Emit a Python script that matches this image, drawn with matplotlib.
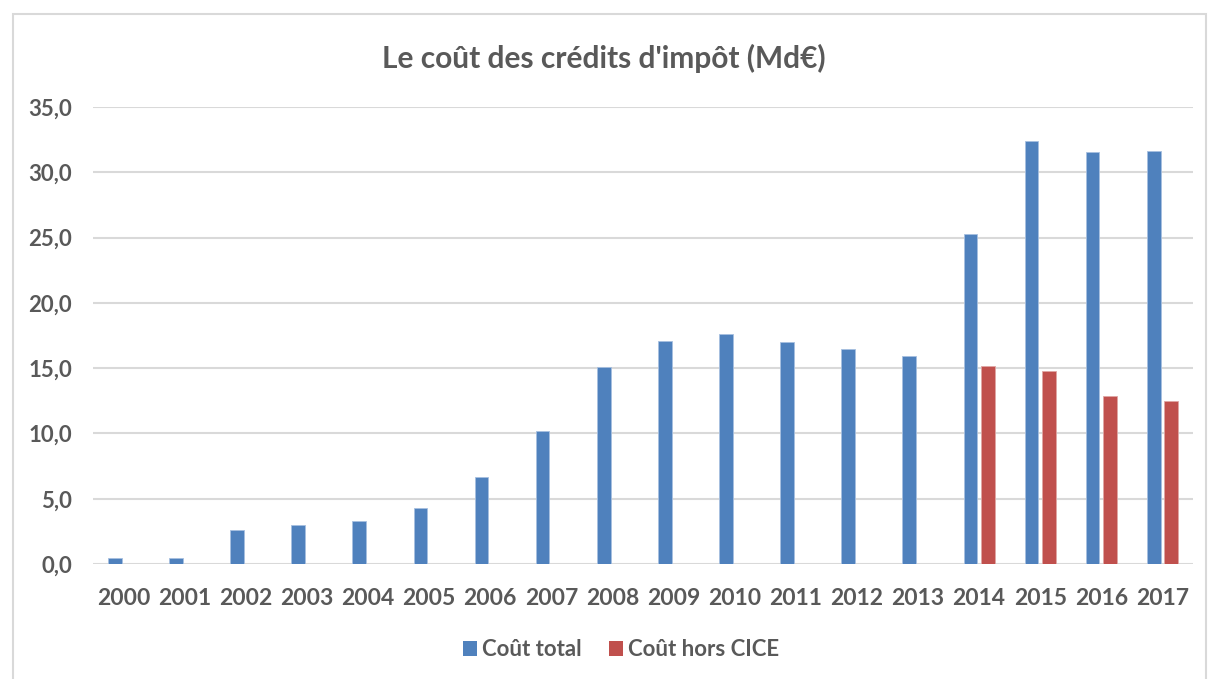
import matplotlib
matplotlib.use("Agg")
import matplotlib.pyplot as plt
import numpy as np
from matplotlib.patches import Rectangle

years = ["2000", "2001", "2002", "2003", "2004", "2005", "2006", "2007", "2008",
         "2009", "2010", "2011", "2012", "2013", "2014", "2015", "2016", "2017"]
cout_total = [0.45, 0.45, 2.6, 3.0, 3.27, 4.3, 6.7, 10.2, 15.1,
              17.1, 17.6, 17.0, 16.5, 15.9, 25.3, 32.4, 31.55, 31.65]
cout_hors_cice = [np.nan] * 14 + [15.15, 14.8, 12.85, 12.5]
series_names = ["Coût total", "Coût hors CICE"]
title = "Le coût des crédits d'impôt (Md€)"
yticks = [0, 5, 10, 15, 20, 25, 30, 35]

blue = "#4F81BD"
red = "#C0504D"
txt = "#595959"
grid = "#D9D9D9"
font = "Lato"

fig = plt.figure(figsize=(12.08, 6.79), dpi=100)
fig.patch.set_facecolor("white")

# chart border
fig.patches.append(Rectangle((13 / 1208, -0.01), (1206 - 13) / 1208, 1 - 14 / 679 + 0.01,
                             transform=fig.transFigure, fill=False,
                             edgecolor=grid, linewidth=1.5, zorder=0))

ax = fig.add_axes([93 / 1208, 1 - 564 / 679, (1193 - 93) / 1208, (564 - 107) / 679])
x = np.arange(len(years))
w = 0.224
off = 0.143
ax.bar(x - off, cout_total, width=w, color=blue, edgecolor="#A7C0E0", linewidth=0.6,
       label=series_names[0], zorder=3)
ax.bar(x + off, cout_hors_cice, width=w, color=red, edgecolor="#E0A6A4", linewidth=0.6,
       label=series_names[1], zorder=3)

ax.set_xlim(-0.5, len(years) - 0.5)
ax.set_ylim(0, 35)
ax.set_yticks(yticks)
ax.set_yticklabels([f"{v:.1f}".replace(".", ",") for v in yticks],
                   fontfamily=font, fontweight="bold", fontsize=16, color=txt)
ax.set_xticks(x)
ax.set_xticklabels(years, fontfamily=font, fontweight="bold", fontsize=16.5, color=txt)
ax.tick_params(axis="both", length=0)
ax.tick_params(axis="y", pad=15)
ax.tick_params(axis="x", pad=17)
ax.yaxis.grid(True, color=grid, linewidth=1.5, zorder=0)
ax.set_axisbelow(True)
for s in ax.spines.values():
    s.set_visible(False)

fig.text(0.5, 1 - 58 / 679, title, ha="center", va="center", fontfamily=font,
         fontweight="bold", fontsize=21.5, color=txt)

leg = fig.legend(loc="center", bbox_to_anchor=(621 / 1208, 1 - 650 / 679), ncol=2,
                 frameon=False, prop={"family": font, "weight": "bold", "size": 16},
                 handlelength=0.63, handleheight=0.63, handletextpad=0.25, columnspacing=1.2)
for t in leg.get_texts():
    t.set_color(txt)
for h in leg.legend_handles:
    h.set_edgecolor("none")

fig.savefig("out.png", dpi=100, facecolor="white")
